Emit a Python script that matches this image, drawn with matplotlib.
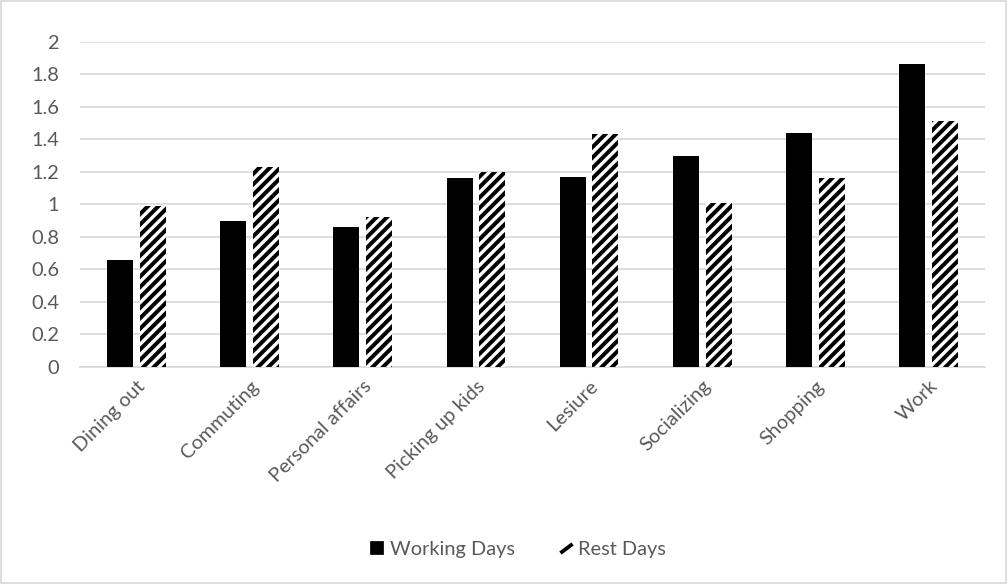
import numpy as np
import matplotlib
matplotlib.use("Agg")
import matplotlib.pyplot as plt
from matplotlib.lines import Line2D
from matplotlib.patches import Rectangle

categories = ["Dining out", "Commuting", "Personal affairs", "Picking up kids",
              "Lesiure", "Socializing", "Shopping", "Work"]
working_days = [0.66, 0.90, 0.86, 1.16, 1.17, 1.30, 1.44, 1.86]
rest_days = [0.99, 1.23, 0.92, 1.20, 1.43, 1.01, 1.16, 1.51]
y_ticks = [0, 0.2, 0.4, 0.6, 0.8, 1, 1.2, 1.4, 1.6, 1.8, 2]

plt.rcParams["font.family"] = ["Lato", "DejaVu Sans"]
plt.rcParams["hatch.linewidth"] = 2.3

DPI = 125
TEXT = "#595959"
GRID = "#d9d9d9"
FS = 11.5

fig = plt.figure(figsize=(1008 / DPI, 584 / DPI), dpi=DPI)
ax = fig.add_axes([80 / 1008, 1 - 367 / 584, 905 / 1008, (367 - 41.7) / 584])

x = np.arange(len(categories))
width = 0.23
offset = 0.145

ax.bar(x - offset, working_days, width, color="black", linewidth=0, zorder=3)
ax.bar(x + offset, rest_days, width, color="white", edgecolor="black",
       hatch="////", linewidth=0, zorder=3)

ax.set_xlim(-0.5, len(categories) - 0.5)
ax.set_ylim(0, 2)
ax.set_yticks(y_ticks)
ax.set_yticklabels([f"{v:g}" for v in y_ticks])
ax.set_xticks(x)
ax.set_xticklabels(categories, rotation=45, ha="right", rotation_mode="anchor")

ax.tick_params(axis="both", length=0, labelsize=FS, labelcolor=TEXT)
ax.tick_params(axis="y", pad=12)
ax.tick_params(axis="x", pad=6)
ax.yaxis.grid(True, color=GRID, linewidth=1.0, zorder=0)
ax.set_axisbelow(True)
for side in ("top", "right", "left"):
    ax.spines[side].set_visible(False)
ax.spines["bottom"].set_color(GRID)
ax.spines["bottom"].set_linewidth(1.0)

handles = [
    Line2D([], [], color="black", lw=0, marker="s", markersize=7),
    Line2D([], [], color="black", lw=0, marker=[(-0.8, -0.6), (0.8, 0.6)],
           markersize=7, markeredgewidth=2.2),
]
fig.legend(handles, ["Working Days", "Rest Days"], loc="center",
           bbox_to_anchor=(518 / 1008, 1 - 549 / 584), ncol=2, frameon=False,
           fontsize=FS, labelcolor=TEXT, handlelength=0.7, handletextpad=0.3,
           columnspacing=2.2)

# thin border around the whole chart
fig.patches.append(Rectangle((0.001, 0.002), 0.997, 0.996, transform=fig.transFigure,
                             fill=False, edgecolor=GRID, linewidth=1.0))

fig.savefig("out.png", dpi=DPI, facecolor="white")
plt.close(fig)
